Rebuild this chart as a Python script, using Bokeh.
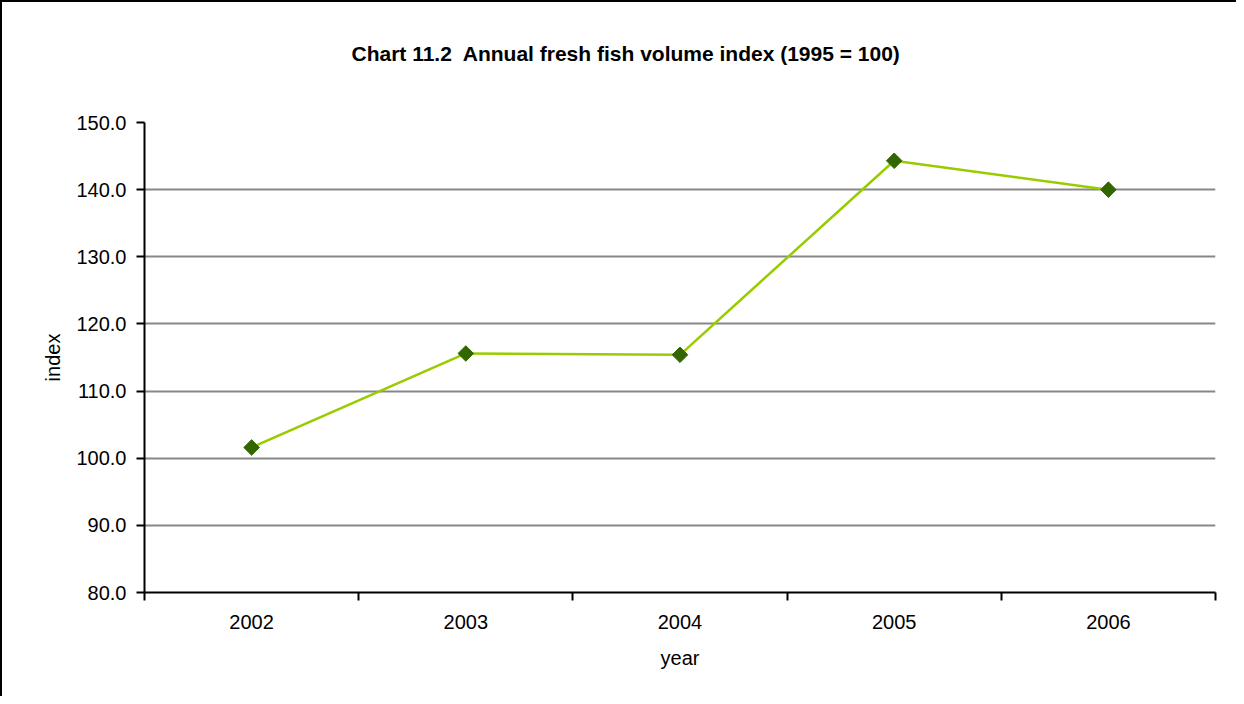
import math
from bokeh.plotting import figure
from bokeh.models import (Range1d, FixedTicker, NumeralTickFormatter, ColumnDataSource,
                          Title, LinearAxis)
from bokeh.embed import file_html
from bokeh.resources import INLINE

# ---- data ----
years = ["2002", "2003", "2004", "2005", "2006"]
index_values = [101.6, 115.6, 115.4, 144.3, 140.0]
y_ticks = [80, 90, 100, 110, 120, 130, 140, 150]

title_text = "Chart 11.2\u00a0 Annual fresh fish volume index (1995 = 100)"
FONT = "Liberation Sans"

xs = [i + 0.5 for i in range(len(years))]
src = ColumnDataSource(dict(x=xs, y=index_values))

p = figure(width=1236, height=696, output_backend="svg", toolbar_location=None,
           x_range=Range1d(0, len(years)), y_range=Range1d(80, 150),
           min_border_left=142, min_border_right=23, min_border_top=120, min_border_bottom=106)

p.styles = {"border-top": "2px solid black", "border-left": "2px solid black"}

# invisible spacer between frame and title (one hidden tick gives it height)
spacer = LinearAxis(ticker=FixedTicker(ticks=[0]), axis_line_color=None,
                    major_tick_line_color=None, minor_tick_line_color=None,
                    major_tick_out=58, major_tick_in=0, minor_tick_out=0,
                    major_label_overrides={0: ""},
                    major_label_text_font_size="1px", major_label_standoff=0)
p.add_layout(spacer, "above")

title = Title(text=title_text, text_font=FONT, text_font_size="21px",
              text_font_style="bold", text_color="black", align="left",
              offset=207, standoff=0)
p.add_layout(title, "above")

p.outline_line_color = None
p.background_fill_color = "white"
p.border_fill_color = "white"

# grid
p.xgrid.grid_line_color = None
p.ygrid.ticker = FixedTicker(ticks=y_ticks)
p.ygrid.grid_line_color = "#878787"
p.ygrid.grid_line_width = 2

# x axis
xa = p.below[0]
xa.ticker = FixedTicker(ticks=xs, minor_ticks=list(range(len(years) + 1)))
xa.major_label_overrides = {x: y for x, y in zip(xs, years)}
xa.major_tick_line_color = None
xa.major_tick_out = 8
xa.major_tick_in = 0
xa.minor_tick_line_color = "black"
xa.minor_tick_line_width = 2
xa.minor_tick_out = 8
xa.minor_tick_in = 0
xa.axis_line_color = "black"
xa.axis_line_width = 2
xa.major_label_text_font = FONT
xa.major_label_text_font_size = "20px"
xa.major_label_text_color = "black"
xa.major_label_standoff = 14
xa.axis_label = "year"
xa.axis_label_text_font = FONT
xa.axis_label_text_font_size = "20px"
xa.axis_label_text_font_style = "normal"
xa.axis_label_text_color = "black"
xa.axis_label_standoff = 15

# y axis
ya = p.left[0]
ya.ticker = FixedTicker(ticks=y_ticks)
ya.formatter = NumeralTickFormatter(format="0.0")
ya.major_tick_line_color = "black"
ya.major_tick_line_width = 2
ya.major_tick_out = 8
ya.major_tick_in = 0
ya.minor_tick_line_color = None
ya.axis_line_color = "black"
ya.axis_line_width = 2
ya.major_label_text_font = FONT
ya.major_label_text_font_size = "20px"
ya.major_label_text_color = "black"
ya.major_label_standoff = 10
ya.axis_label = "index"
ya.axis_label_text_font = FONT
ya.axis_label_text_font_size = "20px"
ya.axis_label_text_font_style = "normal"
ya.axis_label_text_color = "black"
ya.axis_label_standoff = 9

# series
p.line("x", "y", source=src, line_color="#99CC00", line_width=2.5)
p.scatter("x", "y", source=src, marker="square", size=11, angle=math.pi / 4,
          fill_color="#336600", line_color="#336600")

open("out.html", "w").write(file_html(p, INLINE))
